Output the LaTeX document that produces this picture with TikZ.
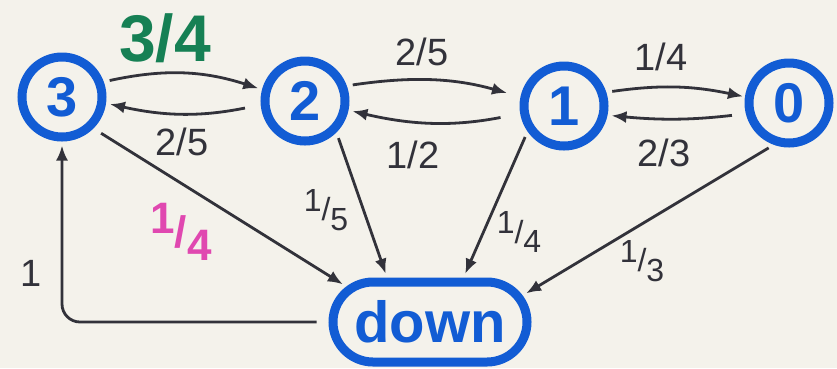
\documentclass[tikz,border=0pt]{standalone}
\usepackage{fontspec}
\setmainfont{Liberation Sans}
\usetikzlibrary{arrows.meta,shapes.misc}
\definecolor{paper}{RGB}{244,242,235}
\definecolor{marker}{RGB}{18,92,212}
\definecolor{pen}{RGB}{50,50,58}
\definecolor{grn}{RGB}{22,128,84}
\definecolor{mag}{RGB}{224,72,176}
% hand written rate, denominator set lower
\newcommand{\slfr}[2]{#1\raisebox{-.3em}{/}\raisebox{-.6em}{#2}}

\begin{document}
\begin{tikzpicture}[x=1pt,y=-1pt,
  circ/.style={draw=marker,text=marker,circle,line width=9pt,minimum size=80pt,inner sep=0pt,
    font=\fontsize{56}{60}\selectfont\bfseries},
  arr/.style={draw=pen,line width=2.8pt,-{Latex[length=15pt,width=12pt]},shorten >=4pt,shorten <=6pt},
  lbl/.style={text=pen,inner sep=0pt,font=\fontsize{38}{42}\selectfont},
  small/.style={lbl,font=\fontsize{32}{36}\selectfont}]
\fill[paper] (0,0) rectangle (837,368);
% the four states and the down state
\node[circ] (n3) at (62,97) {3};
\node[circ] (n2) at (305,101) {2};
\node[circ] (n1) at (564,106) {1};
\node[circ] (n0) at (789,103) {0};
\node[circ,rounded rectangle,minimum width=194pt,minimum height=80pt,
  font=\fontsize{58}{62}\selectfont\bfseries] (down) at (430,322) {down};
% moves between neighbours
\draw[arr] (n3.20) to[bend left=15] (n2.165);
\draw[arr,shorten <=16pt] (n2.185) to[bend left=12] (n3.-8);
\draw[arr,shorten >=14pt] (n2.20) to[bend left=12] (n1.168);
\draw[arr,shorten <=20pt] (n1.190) to[bend left=12] (n2.-12);
\draw[arr,shorten >=2pt] (n1.18) to[bend left=10] (n0.172);
\draw[arr,shorten <=14pt] (n0.194) to[bend left=6] (n1.-12);
% failures
\draw[arr,shorten <=9pt] (n3.-45) -- (down.157);
\draw[arr] (n2.-45) -- (down.134);
\draw[arr] (n1.-145) -- (down.53);
\draw[arr] (n0.-110) -- (down.16);
% repair
\draw[arr,rounded corners=18pt,shorten <=12pt] (down.west) -| (n3.south);
% rates
\node[lbl,text=grn,font=\fontsize{66}{70}\selectfont\bfseries] (p32) at (165,38) {3/4};
\node[lbl] (p23) at (182,142) {2/5};
\node[lbl] (p21) at (422,52) {2/5};
\node[lbl] (p12) at (413,155) {1/2};
\node[lbl] (p10) at (661,57) {1/4};
\node[lbl] (p01) at (664,153) {2/3};
\node[lbl,text=mag,font=\fontsize{44}{48}\selectfont\bfseries] (p3d) at (181,232) {\slfr{1}{4}};
\node[small] (p2d) at (326,210) {\slfr{1}{5}};
\node[small] (p1d) at (519,232) {\slfr{1}{4}};
\node[small] (p0d) at (642,261) {\slfr{1}{3}};
\node[lbl] (pd3) at (31,273) {1};
\end{tikzpicture}
\end{document}
